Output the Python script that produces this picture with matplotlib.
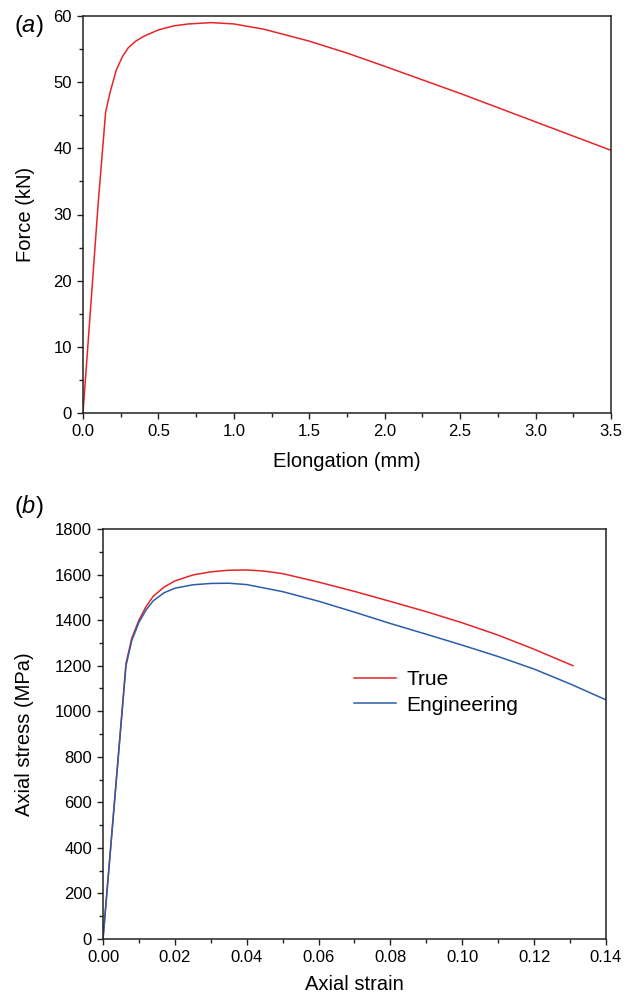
import numpy as np
import matplotlib
matplotlib.use("Agg")
import matplotlib.pyplot as plt
from matplotlib.ticker import MultipleLocator, FormatStrFormatter

plt.rcParams['font.family'] = ['Liberation Sans', 'DejaVu Sans']
plt.rcParams['mathtext.fontset'] = 'custom'
plt.rcParams['mathtext.rm'] = 'Liberation Sans'
plt.rcParams['mathtext.it'] = 'Liberation Sans:italic'

# (a) force - elongation
elongation = [0, 0.10, 0.15, 0.18, 0.22, 0.26, 0.30, 0.35, 0.40, 0.50, 0.60,
              0.70, 0.85, 1.00, 1.20, 1.50, 1.75, 2.00, 2.50, 3.00, 3.50]
force = [0, 31.5, 45.5, 48.5, 51.8, 53.8, 55.2, 56.2, 56.9, 57.9, 58.5,
         58.8, 59.0, 58.8, 58.0, 56.2, 54.4, 52.4, 48.3, 44.0, 39.7]

# (b) stress - strain
true_strain = [0, 0.0064, 0.008, 0.010, 0.012, 0.014, 0.017, 0.020, 0.025, 0.030,
               0.035, 0.040, 0.045, 0.050, 0.060, 0.070, 0.080, 0.090, 0.100,
               0.110, 0.120, 0.1308]
true_stress = [0, 1210, 1320, 1400, 1460, 1505, 1545, 1572, 1598, 1612,
               1619, 1620, 1615, 1604, 1567, 1526, 1482, 1437, 1388,
               1334, 1272, 1200]
eng_strain = [0, 0.0064, 0.008, 0.010, 0.012, 0.014, 0.017, 0.020, 0.025, 0.030,
              0.035, 0.040, 0.050, 0.060, 0.070, 0.080, 0.090, 0.100, 0.110,
              0.120, 0.130, 0.140]
eng_stress = [0, 1200, 1310, 1390, 1445, 1485, 1520, 1540, 1555, 1561,
              1562, 1556, 1525, 1483, 1435, 1385, 1338, 1290, 1240,
              1185, 1120, 1050]

red = '#e4252a'
blue = '#2b5da8'

fig = plt.figure(figsize=(6.35, 9.99), dpi=100)
ax1 = fig.add_axes([83/635, 1-413/999, (611-83)/635, (413-16)/999])
ax2 = fig.add_axes([103/635, 1-939/999, (606-103)/635, (939-529)/999])

def style(ax):
    for s in ax.spines.values():
        s.set_linewidth(1.1)
        s.set_color('#222222')
    ax.tick_params(which='both', direction='out', top=False, right=False,
                   labelsize=12, width=1.0, color='#222222')
    ax.tick_params(which='major', length=4.5, pad=3.5)
    ax.tick_params(which='minor', length=3)

ax1.plot(elongation, force, color=red, lw=1.1)
ax1.set_xlim(0, 3.5)
ax1.set_ylim(0, 60)
ax1.xaxis.set_major_locator(MultipleLocator(0.5))
ax1.xaxis.set_minor_locator(MultipleLocator(0.25))
ax1.yaxis.set_major_locator(MultipleLocator(10))
ax1.yaxis.set_minor_locator(MultipleLocator(5))
ax1.xaxis.set_major_formatter(FormatStrFormatter('%.1f'))
style(ax1)
ax1.set_xlabel('Elongation (mm)', fontsize=14.5)
ax1.set_ylabel('Force (kN)', fontsize=14.5)
ax1.xaxis.set_label_coords(0.5, -0.098)
ax1.yaxis.set_label_coords(-0.091, 0.5)

ax2.plot(true_strain, true_stress, color=red, lw=1.1, label='True')
ax2.plot(eng_strain, eng_stress, color=blue, lw=1.1, label='Engineering')
ax2.set_xlim(0, 0.14)
ax2.set_ylim(0, 1800)
ax2.xaxis.set_major_locator(MultipleLocator(0.02))
ax2.xaxis.set_minor_locator(MultipleLocator(0.01))
ax2.yaxis.set_major_locator(MultipleLocator(200))
ax2.yaxis.set_minor_locator(MultipleLocator(100))
ax2.xaxis.set_major_formatter(FormatStrFormatter('%.2f'))
style(ax2)
ax2.set_xlabel('Axial strain', fontsize=14.5)
ax2.set_ylabel('Axial stress (MPa)', fontsize=14.5)
ax2.xaxis.set_label_coords(0.5, -0.088)
ax2.yaxis.set_label_coords(-0.137, 0.5)
ax2.legend(loc='upper left', bbox_to_anchor=(0.5, 0.655), frameon=False,
           fontsize=15, handlelength=2.0, handletextpad=0.5, labelspacing=0.3,
           borderpad=0, borderaxespad=0)

fig.text(29/635, 1-26/999, r'($\it{a}$)', fontsize=17, ha='center', va='center')
fig.text(29/635, 1-507/999, r'($\it{b}$)', fontsize=17, ha='center', va='center')

fig.savefig('out.png', dpi=100)
